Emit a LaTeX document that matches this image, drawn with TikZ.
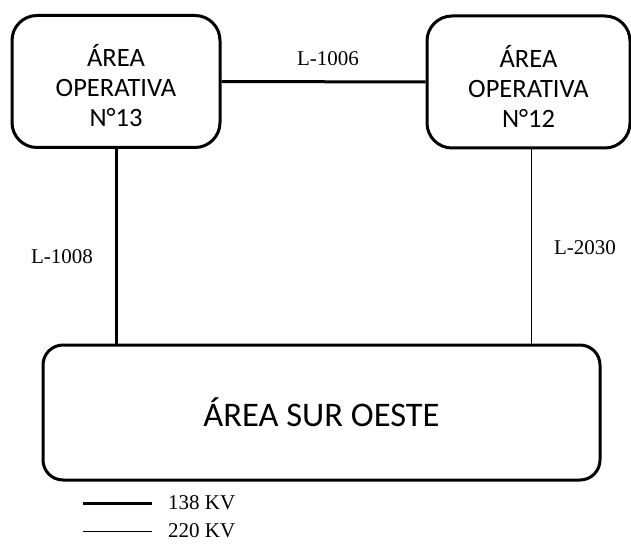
\documentclass[tikz,border=0pt]{standalone}
\usepackage{fontspec}
\setmainfont{Liberation Serif}
\newfontfamily\boxfont{Carlito}
\begin{document}
\begin{tikzpicture}[x=1pt,y=-1pt,
  areabox/.style={draw, line width=3pt, rounded corners=25pt, align=center,
    font=\boxfont\fontsize{26.5}{30}\selectfont, inner sep=0pt},
  hv/.style={line width=3pt},
  lv/.style={line width=1pt},
  lbl/.style={font=\fontsize{21}{23}\selectfont, inner sep=0pt}]
\useasboundingbox (0,0) rectangle (631,545);
\node[areabox, minimum width=208pt, minimum height=132pt] (a13) at (116,81.5) {};
\node[areabox, minimum width=203pt, minimum height=132pt] (a12) at (528.5,82) {};
\node[areabox, draw=none, minimum size=0pt] (a13t) at ([yshift=-4pt]a13.center) {ÁREA\\OPERATIVA\\N°13};
\node[areabox, draw=none, minimum size=0pt] (a12t) at ([yshift=-4pt]a12.center) {ÁREA\\OPERATIVA\\N°12};
\node[areabox, rounded corners=20pt, minimum width=557pt, minimum height=135pt,
  font=\boxfont\fontsize{34.5}{38}\selectfont] (aso) at (321.5,412.5) {ÁREA SUR OESTE};
\draw[hv] (a13.east) -- (a12.west);
\draw[hv] (a13.south) -- (a13.south |- aso.north);
\draw[lv] ([xshift=3pt]a12.south) -- ([xshift=3pt]a12.south |- aso.north);
\node[lbl] (t1006) at (328,59) {L-1006};
\node[lbl] (t1008) at (62,257) {L-1008};
\node[lbl] (t2030) at (585,248) {L-2030};
\coordinate (k1a) at (83,503);
\coordinate (k1b) at (152,503);
\coordinate (k2a) at (83,531);
\coordinate (k2b) at (152,531);
\draw[hv] (k1a) -- (k1b);
\draw[lv] (k2a) -- (k2b);
\node[lbl, anchor=west] (t138) at (168,503) {138 KV};
\node[lbl, anchor=west] (t220) at (168,531) {220 KV};
\end{tikzpicture}
\end{document}
